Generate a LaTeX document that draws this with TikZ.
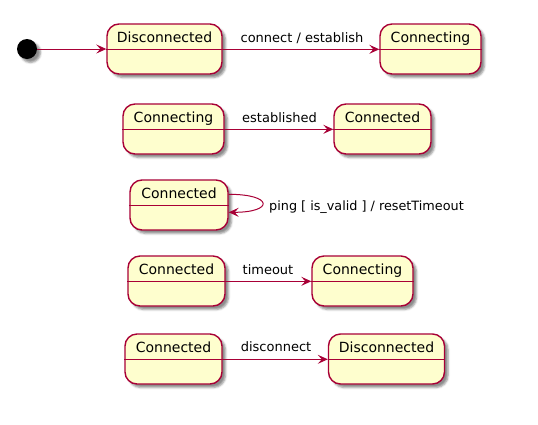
\documentclass[tikz,border=0pt]{standalone}
\usepackage{fontspec}
\setmainfont{DejaVu Sans}
\usetikzlibrary{arrows.meta,shadows.blur}
\definecolor{stfill}{HTML}{FEFECE}
\definecolor{stline}{HTML}{A80036}
\tikzset{
  shad/.style={blur shadow={shadow xshift=3.5pt,shadow yshift=-3.5pt,shadow blur radius=2pt,shadow opacity=45}},
  state/.style={draw=stline,fill=stfill,line width=1.4pt,rounded corners=12pt,minimum height=50pt,inner sep=0pt,shad},
  divline/.style={draw=stline,line width=1.1pt},
  sname/.style={font=\fontsize{14}{16}\selectfont,anchor=base,inner sep=0pt},
  tlabel/.style={font=\fontsize{13}{15}\selectfont,anchor=base,inner sep=0pt},
  arr/.style={draw=stline,line width=1pt,-{Stealth[length=10pt,width=9pt,inset=4pt]}},
  initst/.style={circle,fill=black,minimum size=20pt,inner sep=0pt,shad}
}
\begin{document}
\begin{tikzpicture}[x=1pt,y=-1pt]
\useasboundingbox (0,0) rectangle (538,424);
% states
\node[initst] (init) at (27,49) {};
\node[state,minimum width=115pt] (d1) at (164.5,49) {};
\node[state,minimum width=101pt] (c1) at (430.5,49) {};
\node[state,minimum width=101pt] (c2) at (173.5,129) {};
\node[state,minimum width=97pt] (k2) at (382.5,129) {};
\node[state,minimum width=98pt] (k3) at (179,205) {};
\node[state,minimum width=97pt] (k4) at (176.5,281) {};
\node[state,minimum width=101pt] (c4) at (362.5,281) {};
\node[state,minimum width=97pt] (k5) at (173.5,359) {};
\node[state,minimum width=116pt] (d5) at (386.5,359) {};
% dividers and names
\foreach \n/\t in {d1/Disconnected,c1/Connecting,c2/Connecting,k2/Connected,k3/Connected,k4/Connected,c4/Connecting,k5/Connected,d5/Disconnected}{
  \draw[divline] ([yshift=-26pt]\n.north west) -- ([yshift=-26pt]\n.north east);
  \node[sname] (\n-name) at ([yshift=-18.7pt]\n.north) {\t};
}
% transitions
\draw[arr] (init.east) -- (init.east -| d1.west);
\draw[arr] ([yshift=-26pt]d1.north east) -- ([yshift=-26pt]c1.north west);
\draw[arr] ([yshift=-26pt]c2.north east) -- ([yshift=-26pt]k2.north west);
\draw[arr] ([yshift=-26pt]k4.north east) -- ([yshift=-26pt]c4.north west);
\draw[arr] ([yshift=-26pt]k5.north east) -- ([yshift=-26pt]d5.north west);
\draw[arr] ([yshift=-15pt]k3.north east) .. controls +(45,0) and +(45,0) .. ([yshift=-33pt]k3.north east);
% labels
\node[tlabel] (l1) at (302,42.3) {connect / establish};
\node[tlabel] (l2) at (279.5,122) {established};
\node[tlabel,anchor=base west,font=\fontsize{12.8}{15}\selectfont] (l3) at (269,210.3) {ping [ is\_valid ] / resetTimeout};
\node[tlabel] (l4) at (268,274.3) {timeout};
\node[tlabel] (l5) at (276,351.7) {disconnect};
\end{tikzpicture}
\end{document}
